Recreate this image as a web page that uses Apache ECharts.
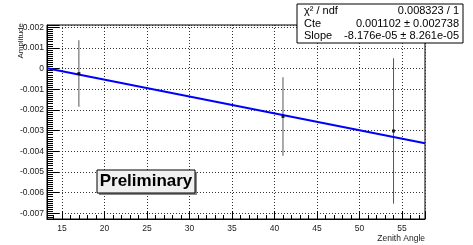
<!DOCTYPE html>
<html>
<head>
<meta charset="utf-8">
<script src="https://cdn.jsdelivr.net/npm/echarts@6/dist/echarts.min.js"></script>
<style>
html,body{margin:0;padding:0;background:#fff;}
#c{width:473px;height:245px;}
</style>
</head>
<body>
<div id="c"></div>
<script>
// ---- data ----
var pointX = [17.0, 41.0, 54.0];
var pointY = [-0.00024, -0.00232, -0.00302];
var pointErr = [0.00161, 0.00190, 0.00352];
var fitX = [13.25, 57.7];
var fitY = [0.00002, -0.00361];
var xRange = [13.25, 57.7];
var yRange = [-0.00728, 0.00211];
var statsRows = [
  ['\u03c7\u00b2 / ndf', '0.008323 / 1'],
  ['Cte', '0.001102 \u00b1 0.002738'],
  ['Slope', '-8.176e-05 \u00b1 8.261e-05']
];
var xName = 'Zenith Angle';
var yName = 'Amplitude';
var stampText = 'Preliminary';

var FONT = '"Liberation Sans", Arial, Helvetica, sans-serif';
var chart = echarts.init(document.getElementById('c'), null, {renderer: 'canvas'});

var G = {left: 47, right: 48, top: 25, bottom: 26};
var gridLine = {color: '#333', width: 1, type: [1, 2]};
var TOP_Z = 100;

var errData = pointX.map(function (x, i) { return [x, pointY[i], pointErr[i]]; });
var ptData = pointX.map(function (x, i) { return [x, pointY[i]]; });
var fitData = fitX.map(function (x, i) { return [x, fitY[i]]; });

function isMult(v, step) {
  var r = v / step;
  return Math.abs(r - Math.round(r)) < 1e-6;
}

var statsChildren = [{
  type: 'rect', z: TOP_Z, shape: {x: 0, y: 0, width: 166, height: 39},
  style: {fill: '#fff', stroke: '#000', lineWidth: 1}
}];
statsRows.forEach(function (row, i) {
  statsChildren.push({type: 'text', z: TOP_Z + 1, x: 7, y: 7 + i * 12.5,
    style: {text: row[0], fill: '#000', font: '11px ' + FONT, textVerticalAlign: 'middle'}});
  statsChildren.push({type: 'text', z: TOP_Z + 1, x: 162, y: 7 + i * 12.5,
    style: {text: row[1], fill: '#000', font: '11px ' + FONT, textAlign: 'right', textVerticalAlign: 'middle'}});
});

var option = {
  animation: false,
  grid: [
    Object.assign({show: true, borderColor: '#000', borderWidth: 1, backgroundColor: '#fff', z: 0}, G),
    Object.assign({show: false}, G)
  ],
  xAxis: [{
    type: 'value', gridIndex: 0, min: xRange[0], max: xRange[1], splitNumber: 9, position: 'bottom',
    axisLine: {show: true, onZero: false, lineStyle: {color: '#000', width: 1}},
    axisTick: {show: true, inside: true, length: 8, lineStyle: {color: '#000'}},
    axisLabel: {show: true, color: '#222', fontFamily: FONT, fontSize: 8.5, margin: 5,
      formatter: function (v) { return isMult(v, 5) ? String(Math.round(v)) : ''; }},
    splitLine: {show: true, lineStyle: gridLine},
    name: xName, nameLocation: 'end', nameGap: 0,
    nameTextStyle: {color: '#222', fontFamily: FONT, fontSize: 8.5, align: 'right', verticalAlign: 'top', padding: [15, 0, 0, 0]}
  }, {
    type: 'value', gridIndex: 1, min: xRange[0], max: xRange[1], splitNumber: 44, position: 'bottom',
    axisLine: {show: false, onZero: false}, axisLabel: {show: false}, splitLine: {show: false},
    axisTick: {show: true, inside: true, length: 4, lineStyle: {color: '#000'}}
  }],
  yAxis: [{
    type: 'value', gridIndex: 0, min: yRange[0], max: yRange[1], splitNumber: 9, position: 'left',
    axisLine: {show: true, onZero: false, lineStyle: {color: '#000', width: 1}},
    axisTick: {show: true, inside: true, length: 12, lineStyle: {color: '#000'}},
    axisLabel: {show: true, color: '#222', fontFamily: FONT, fontSize: 8.5, margin: 3,
      formatter: function (v) { return isMult(v, 0.001) ? String(parseFloat(v.toFixed(4))) : ''; }},
    splitLine: {show: true, lineStyle: gridLine}
  }, {
    type: 'value', gridIndex: 1, min: yRange[0], max: yRange[1], splitNumber: 94, position: 'left',
    axisLine: {show: false, onZero: false}, axisLabel: {show: false}, splitLine: {show: false},
    axisTick: {show: true, inside: true, length: 6, lineStyle: {color: '#000'}}
  }],
  series: [{
    type: 'custom', xAxisIndex: 0, yAxisIndex: 0, data: errData, z: 3,
    renderItem: function (params, api) {
      var x = api.value(0), y = api.value(1), e = api.value(2);
      var top = api.coord([x, y + e]);
      var bot = api.coord([x, y - e]);
      return {type: 'line', shape: {x1: top[0], y1: top[1], x2: bot[0], y2: bot[1]},
        style: {stroke: '#555', lineWidth: 1}};
    }
  }, {
    type: 'line', xAxisIndex: 0, yAxisIndex: 0, data: fitData, showSymbol: false, z: 4,
    lineStyle: {color: '#0000ff', width: 2}, silent: true
  }, {
    type: 'scatter', xAxisIndex: 0, yAxisIndex: 0, data: ptData, symbol: 'rect', symbolSize: 3, z: 5,
    itemStyle: {color: '#000'}
  }],
  graphic: {
    z: TOP_Z,
    elements: [{
      type: 'text', x: 20.5, y: 23, rotation: Math.PI / 2, z: TOP_Z,
      style: {text: yName, fill: '#222', font: '8px ' + FONT, textAlign: 'right', textVerticalAlign: 'middle'}
    }, {
      type: 'group', x: 297, y: 4, z: TOP_Z,
      children: statsChildren
    }, {
      type: 'group', x: 97, y: 170, z: TOP_Z,
      children: [{
        type: 'rect', z: TOP_Z, shape: {x: 2, y: 2, width: 98, height: 23}, style: {fill: '#888'}
      }, {
        type: 'rect', z: TOP_Z + 1, shape: {x: 0, y: 0, width: 98, height: 23},
        style: {fill: '#f0f0f0', stroke: '#000', lineWidth: 1}
      }, {
        type: 'text', z: TOP_Z + 2, x: 49, y: 11.5,
        style: {text: stampText, fill: '#000', font: 'bold 17px ' + FONT, textAlign: 'center', textVerticalAlign: 'middle'}
      }]
    }]
  }
};
chart.setOption(option);
</script>
</body>
</html>
